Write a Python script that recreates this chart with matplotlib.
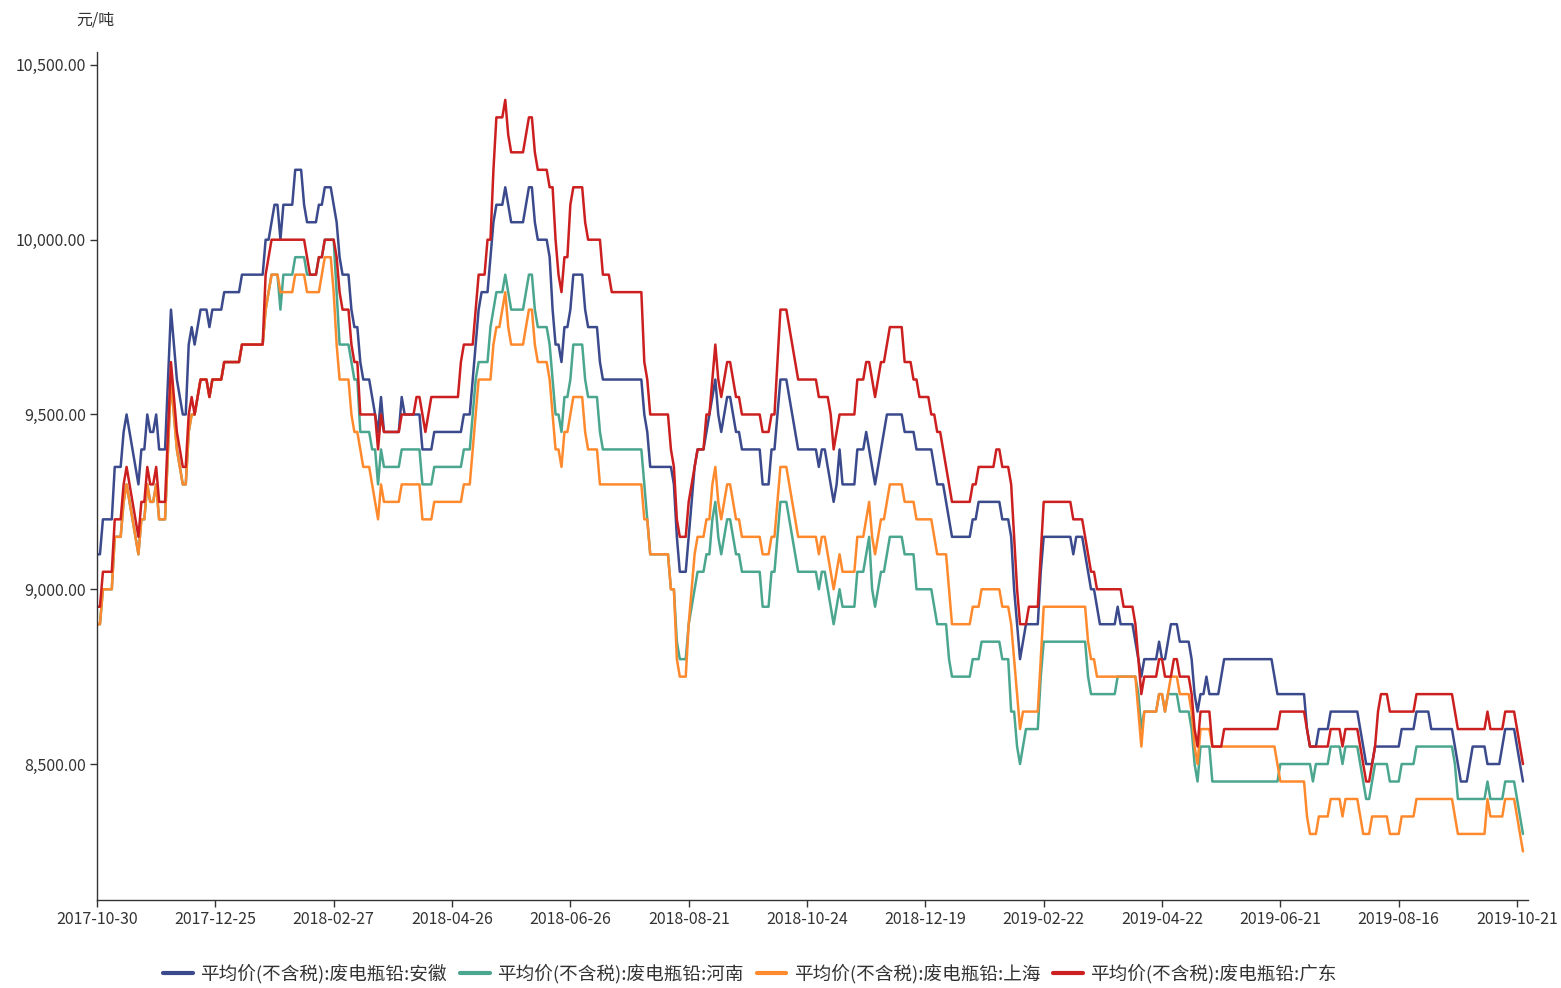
import numpy as np
import matplotlib
matplotlib.use("Agg")
import matplotlib.pyplot as plt
from matplotlib.ticker import FuncFormatter

plt.rcParams["font.family"] = ["Noto Sans CJK SC", "DejaVu Sans"]
plt.rcParams["axes.unicode_minus"] = False

# 横轴：交易日序号，每 40 个交易日一个日期标签
tick_index = [0, 40, 80, 120, 160, 200, 240, 280, 320, 360, 400, 440, 480]
tick_labels = ["2017-10-30", "2017-12-25", "2018-02-27", "2018-04-26", "2018-06-26",
               "2018-08-21", "2018-10-24", "2018-12-19", "2019-02-22", "2019-04-22",
               "2019-06-21", "2019-08-16", "2019-10-21"]
y_ticks = [8500, 9000, 9500, 10000, 10500]

names = ["平均价(不含税):废电瓶铅:安徽", "平均价(不含税):废电瓶铅:河南",
         "平均价(不含税):废电瓶铅:上海", "平均价(不含税):废电瓶铅:广东"]
colors = ["#3B4A8C", "#4BA68F", "#FF8A2E", "#CC1F1F"]

# 价格(元/吨)按 (价格, 连续交易日数) 记录
anhui = [(9100,2),(9200,4),(9350,3),(9450,1),(9500,1),(9450,1),(9400,1),(9350,1),(9300,1),(9400,2),
         (9500,1),(9450,2),(9500,1),(9400,3),(9600,1),(9800,1),(9700,1),(9600,1),(9550,1),(9500,2),
         (9700,1),(9750,1),(9700,1),(9750,1),(9800,3),(9750,1),(9800,4),(9850,6),(9900,8),(10000,2),
         (10050,1),(10100,2),(10000,1),(10100,4),(10200,3),(10100,1),(10050,4),(10100,2),(10150,3),(10100,1),
         (10050,1),(9950,1),(9900,3),(9800,1),(9750,2),(9650,1),(9600,3),(9550,1),(9500,1),(9450,1),
         (9550,1),(9450,6),(9550,1),(9500,6),(9400,4),(9450,10),(9500,3),(9600,1),(9700,1),(9800,1),
         (9850,3),(9950,1),(10050,1),(10100,3),(10150,1),(10100,1),(10050,5),(10100,1),(10150,2),(10050,1),
         (10000,4),(9950,1),(9800,1),(9700,2),(9650,1),(9750,2),(9800,1),(9900,4),(9800,1),(9750,4),
         (9650,1),(9600,14),(9500,1),(9450,1),(9350,8),(9300,1),(9150,1),(9050,3),(9150,1),(9250,1),
         (9350,1),(9400,3),(9450,1),(9500,1),(9550,1),(9600,1),(9500,1),(9450,1),(9500,1),(9550,2),
         (9500,1),(9450,2),(9400,7),(9300,3),(9400,2),(9500,1),(9600,3),(9550,1),(9500,1),(9450,1),
         (9400,7),(9350,1),(9400,2),(9350,1),(9300,1),(9250,1),(9300,1),(9400,1),(9300,5),(9400,3),
         (9450,1),(9400,1),(9350,1),(9300,1),(9350,1),(9400,1),(9450,1),(9500,6),(9450,4),(9400,6),
         (9350,1),(9300,3),(9250,1),(9200,1),(9150,7),(9200,2),(9250,8),(9200,3),(9150,1),(9000,1),
         (8900,1),(8800,1),(8850,1),(8900,5),(9050,1),(9150,10),(9100,1),(9150,3),(9100,1),(9050,1),
         (9000,2),(8950,1),(8900,6),(8950,1),(8900,5),(8850,1),(8800,1),(8750,1),(8800,5),(8850,1),
         (8800,2),(8850,1),(8900,3),(8850,4),(8800,1),(8700,1),(8650,1),(8700,2),(8750,1),(8700,4),
         (8750,1),(8800,17),(8750,1),(8700,10),(8600,1),(8550,3),(8600,4),(8650,10),(8600,1),(8550,1),
         (8500,3),(8550,9),(8600,5),(8650,5),(8600,8),(8550,1),(8500,1),(8450,3),(8500,1),(8550,5),
         (8500,5),(8550,1),(8600,4),(8550,1),(8500,1),(8450,1)]

henan = [(8900,2),(9000,4),(9150,3),(9250,1),(9300,1),(9250,1),(9200,1),(9150,1),(9100,1),(9200,2),
         (9300,1),(9250,2),(9300,1),(9200,3),(9400,1),(9600,1),(9500,1),(9400,1),(9350,1),(9300,2),
         (9450,1),(9500,2),(9550,1),(9600,3),(9550,1),(9600,4),(9650,6),(9700,8),(9800,1),(9850,1),
         (9900,3),(9800,1),(9900,4),(9950,4),(9900,4),(9950,2),(10000,4),(9850,1),(9700,4),(9650,1),
         (9600,2),(9450,4),(9400,2),(9300,1),(9400,1),(9350,6),(9400,7),(9300,4),(9350,10),(9400,3),
         (9500,1),(9600,1),(9650,4),(9750,1),(9800,1),(9850,3),(9900,1),(9850,1),(9800,5),(9850,1),
         (9900,2),(9800,1),(9750,4),(9700,1),(9600,1),(9500,2),(9450,1),(9550,2),(9600,1),(9700,4),
         (9600,1),(9550,4),(9450,1),(9400,14),(9300,1),(9200,1),(9100,7),(9000,2),(8850,1),(8800,3),
         (8900,1),(8950,1),(9000,1),(9050,3),(9100,2),(9200,1),(9250,1),(9150,1),(9100,1),(9150,1),
         (9200,2),(9150,1),(9100,2),(9050,7),(8950,3),(9050,2),(9150,1),(9250,3),(9200,1),(9150,1),
         (9100,1),(9050,7),(9000,1),(9050,2),(9000,1),(8950,1),(8900,1),(8950,1),(9000,1),(8950,5),
         (9050,3),(9100,1),(9150,1),(9000,1),(8950,1),(9000,1),(9050,2),(9100,1),(9150,5),(9100,4),
         (9000,6),(8950,1),(8900,4),(8800,1),(8750,7),(8800,3),(8850,7),(8800,3),(8650,2),(8550,1),
         (8500,1),(8550,1),(8600,5),(8750,1),(8850,15),(8750,1),(8700,9),(8750,7),(8700,1),(8600,1),
         (8650,5),(8700,2),(8650,1),(8700,4),(8650,4),(8600,1),(8500,1),(8450,1),(8550,4),(8450,23),
         (8500,11),(8450,1),(8500,5),(8550,4),(8500,1),(8550,5),(8500,1),(8450,1),(8400,2),(8450,1),
         (8500,5),(8450,4),(8500,5),(8550,13),(8500,1),(8400,10),(8450,1),(8400,5),(8450,4),(8400,1),
         (8350,1),(8300,1)]

shanghai = [(8900,2),(9000,4),(9150,3),(9250,1),(9300,1),(9250,1),(9200,1),(9150,1),(9100,1),(9200,2),
            (9300,1),(9250,2),(9300,1),(9200,3),(9400,1),(9600,1),(9500,1),(9400,1),(9350,1),(9300,2),
            (9450,1),(9500,2),(9550,1),(9600,3),(9550,1),(9600,4),(9650,6),(9700,8),(9800,1),(9850,1),
            (9900,3),(9850,5),(9900,4),(9850,5),(9900,1),(9950,3),(9850,1),(9700,1),(9600,4),(9500,1),
            (9450,2),(9400,1),(9350,3),(9300,1),(9250,1),(9200,1),(9300,1),(9250,6),(9300,7),(9200,4),
            (9250,10),(9300,3),(9400,1),(9500,1),(9600,5),(9700,1),(9750,2),(9800,1),(9850,1),(9750,1),
            (9700,5),(9750,1),(9800,2),(9700,1),(9650,4),(9600,1),(9500,1),(9400,2),(9350,1),(9450,2),
            (9500,1),(9550,4),(9450,1),(9400,4),(9300,15),(9200,2),(9100,7),(9000,2),(8800,1),(8750,3),
            (8900,1),(9000,1),(9100,1),(9150,3),(9200,2),(9300,1),(9350,1),(9250,1),(9200,1),(9250,1),
            (9300,2),(9250,1),(9200,2),(9150,7),(9100,3),(9150,2),(9250,1),(9350,3),(9300,1),(9250,1),
            (9200,1),(9150,7),(9100,1),(9150,2),(9100,1),(9050,1),(9000,1),(9050,1),(9100,1),(9050,5),
            (9150,3),(9200,1),(9250,1),(9150,1),(9100,1),(9150,1),(9200,2),(9250,1),(9300,5),(9250,4),
            (9200,6),(9150,1),(9100,4),(9000,1),(8900,7),(8950,3),(9000,7),(8950,3),(8900,1),(8800,1),
            (8700,1),(8600,1),(8650,6),(8800,1),(8950,15),(8850,1),(8800,2),(8750,14),(8650,1),(8550,1),
            (8650,5),(8700,2),(8650,1),(8700,1),(8750,3),(8700,4),(8650,1),(8550,1),(8500,1),(8600,4),
            (8550,22),(8500,1),(8450,9),(8350,1),(8300,3),(8350,4),(8400,4),(8350,1),(8400,5),(8350,1),
            (8300,3),(8350,6),(8300,4),(8350,5),(8400,13),(8350,1),(8300,10),(8400,1),(8350,5),(8400,4),
            (8350,1),(8300,1),(8250,1)]

guangdong = [(8950,2),(9050,4),(9200,3),(9300,1),(9350,1),(9300,1),(9250,1),(9200,1),(9150,1),(9250,2),
             (9350,1),(9300,2),(9350,1),(9250,3),(9450,1),(9650,1),(9550,1),(9450,1),(9400,1),(9350,2),
             (9500,1),(9550,1),(9500,1),(9550,1),(9600,3),(9550,1),(9600,4),(9650,6),(9700,8),(9900,1),
             (9950,1),(10000,12),(9950,1),(9900,3),(9950,2),(10000,4),(9950,1),(9850,1),(9800,3),(9700,1),
             (9650,2),(9500,6),(9400,1),(9500,1),(9450,6),(9500,5),(9550,2),(9500,1),(9450,1),(9500,1),
             (9550,10),(9650,1),(9700,4),(9800,1),(9900,3),(10000,2),(10200,1),(10350,3),(10400,1),(10300,1),
             (10250,5),(10300,1),(10350,2),(10250,1),(10200,4),(10150,2),(10000,1),(9900,1),(9850,1),(9950,2),
             (10100,1),(10150,4),(10050,1),(10000,5),(9900,3),(9850,11),(9650,1),(9600,1),(9500,7),(9400,1),
             (9350,1),(9200,1),(9150,3),(9250,1),(9300,1),(9350,1),(9400,3),(9500,2),(9600,1),(9700,1),
             (9600,1),(9550,1),(9600,1),(9650,2),(9600,1),(9550,2),(9500,7),(9450,3),(9500,2),(9650,1),
             (9800,3),(9750,1),(9700,1),(9650,1),(9600,7),(9550,4),(9500,1),(9400,1),(9450,1),(9500,6),
             (9600,3),(9650,2),(9600,1),(9550,1),(9600,1),(9650,2),(9700,1),(9750,5),(9650,3),(9600,2),
             (9550,4),(9500,2),(9450,2),(9400,1),(9350,1),(9300,1),(9250,7),(9300,2),(9350,6),(9400,2),
             (9350,3),(9300,1),(9150,1),(9000,1),(8900,3),(8950,4),(9100,1),(9250,10),(9200,4),(9150,1),
             (9100,1),(9050,2),(9000,9),(8950,4),(8900,1),(8800,1),(8700,1),(8750,5),(8800,2),(8750,3),
             (8800,2),(8750,4),(8700,1),(8600,1),(8550,1),(8650,4),(8550,4),(8600,19),(8650,9),(8600,1),
             (8550,7),(8600,4),(8550,1),(8600,5),(8550,1),(8500,1),(8450,2),(8500,1),(8550,1),(8650,1),
             (8700,3),(8650,9),(8700,13),(8650,1),(8600,10),(8650,1),(8600,5),(8650,4),(8600,1),(8550,1),
             (8500,1)]


def expand(runs):
    vals = [v for v, _ in runs]
    days = [n for _, n in runs]
    return np.repeat(vals, days)


series = [expand(s) for s in (anhui, henan, shanghai, guangdong)]
for s in series:
    assert len(s) == 483, len(s)

W, H = 1561, 988
fig = plt.figure(figsize=(W / 100, H / 100), dpi=100)
ax = fig.add_axes([97 / W, 1 - 900 / H, (1528 - 97) / W, (900 - 52) / H])

for s, c, name in zip(series, colors, names):
    ax.plot(np.arange(len(s)), s, color=c, lw=1.8, label=name,
            solid_joinstyle="round", solid_capstyle="round")

ax.set_xlim(0, 483.7)
ax.set_ylim(8111, 10537)
ax.set_xticks(tick_index)
ax.set_xticklabels(tick_labels)
ax.set_yticks(y_ticks)
ax.yaxis.set_major_formatter(FuncFormatter(lambda v, p: f"{v:,.2f}"))

for side in ("top", "right"):
    ax.spines[side].set_visible(False)
for side in ("left", "bottom"):
    ax.spines[side].set_color("#333333")
    ax.spines[side].set_linewidth(1.0)
ax.tick_params(axis="both", length=5, width=1, color="#333333",
               labelcolor="#333333", labelsize=11.5, pad=3)

fig.text(115 / W, 1 - 20 / H, "元/吨", ha="right", va="center",
         fontsize=11.5, color="#333333")

fig.legend(loc="center", bbox_to_anchor=(750 / W, 14 / H), ncol=4, frameon=False,
           fontsize=13.4, handlelength=1.6, handletextpad=0.4, columnspacing=0.7,
           labelcolor="#333333")
for line in fig.legends[0].get_lines():
    line.set_linewidth(3)

fig.savefig("out.png", dpi=100)
